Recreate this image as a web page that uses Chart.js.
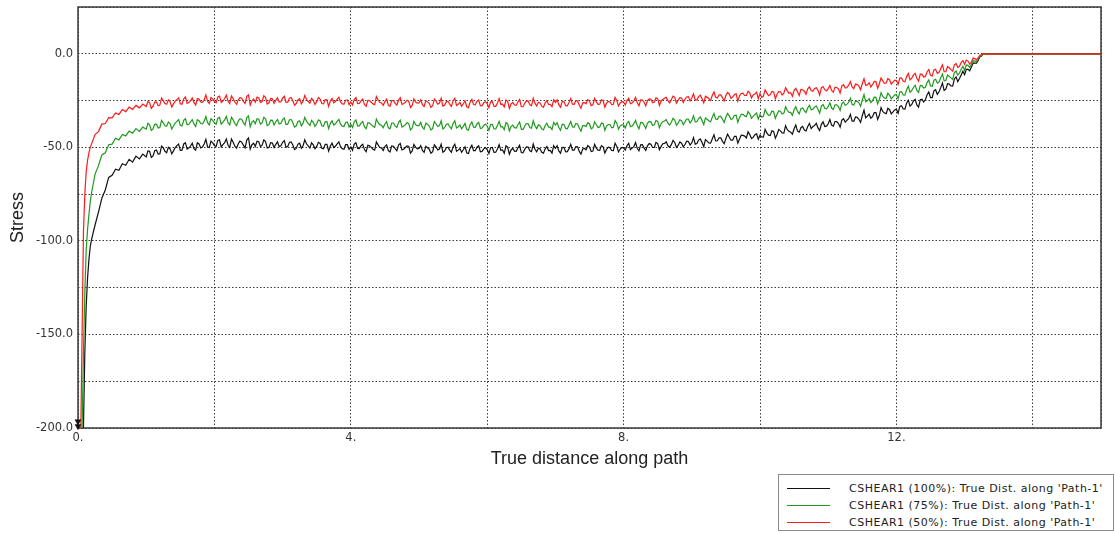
<!DOCTYPE html>
<html>
<head>
<meta charset="utf-8">
<title>CSHEAR1 along Path-1</title>
<script src="https://cdn.jsdelivr.net/npm/chart.js@4.4.1/dist/chart.umd.min.js"></script>
<style>
  html, body { margin: 0; padding: 0; background: #fff; }
  #wrap { position: relative; width: 1115px; height: 534px; overflow: hidden; }
  #legend {
    position: absolute; left: 778px; top: 474px; width: 336px; height: 57px;
    box-sizing: border-box; border: 1px solid #8a8a8a; background: #fff;
    font: 11px "DejaVu Sans", Verdana, sans-serif; letter-spacing: 0.5px; color: #222;
  }
  #legend .row { position: absolute; left: 0; right: 0; height: 16px; }
  #legend .sw { position: absolute; left: 8px; width: 43px; top: 7px; height: 0; border-top: 1.3px solid; }
  #legend .tx { position: absolute; left: 70px; top: 0; line-height: 16px; white-space: nowrap; }
</style>
</head>
<body>
<div id="wrap">
  <canvas id="chart" width="1115" height="534"></canvas>
  <div id="legend"></div>
</div>
<script>
// Distance along Path-1 (primary sample positions)
const distance = [
  0, 0.02, 0.04, 0.06, 0.08, 0.1, 0.12, 0.14, 0.16, 0.18,
  0.2, 0.25, 0.3, 0.35, 0.4, 0.45, 0.5, 0.55, 0.6, 0.65, 0.7, 0.75, 0.8, 0.85, 0.9, 0.95, 1,
  1.05, 1.1, 1.15, 1.2, 1.25, 1.3, 1.35, 1.4, 1.45, 1.5, 1.55, 1.6, 1.65, 1.7, 1.75, 1.8, 1.85, 1.9, 1.95, 2,
  2.05, 2.1, 2.15, 2.2, 2.25, 2.3, 2.35, 2.4, 2.45, 2.5, 2.55, 2.6, 2.65, 2.7, 2.75, 2.8, 2.85, 2.9, 2.95, 3,
  3.05, 3.1, 3.15, 3.2, 3.25, 3.3, 3.35, 3.4, 3.45, 3.5, 3.55, 3.6, 3.65, 3.7, 3.75, 3.8, 3.85, 3.9, 3.95, 4,
  4.05, 4.1, 4.15, 4.2, 4.25, 4.3, 4.35, 4.4, 4.45, 4.5, 4.55, 4.6, 4.65, 4.7, 4.75, 4.8, 4.85, 4.9, 4.95, 5,
  5.05, 5.1, 5.15, 5.2, 5.25, 5.3, 5.35, 5.4, 5.45, 5.5, 5.55, 5.6, 5.65, 5.7, 5.75, 5.8, 5.85, 5.9, 5.95, 6,
  6.05, 6.1, 6.15, 6.2, 6.25, 6.3, 6.35, 6.4, 6.45, 6.5, 6.55, 6.6, 6.65, 6.7, 6.75, 6.8, 6.85, 6.9, 6.95, 7,
  7.05, 7.1, 7.15, 7.2, 7.25, 7.3, 7.35, 7.4, 7.45, 7.5, 7.55, 7.6, 7.65, 7.7, 7.75, 7.8, 7.85, 7.9, 7.95, 8,
  8.05, 8.1, 8.15, 8.2, 8.25, 8.3, 8.35, 8.4, 8.45, 8.5, 8.55, 8.6, 8.65, 8.7, 8.75, 8.8, 8.85, 8.9, 8.95, 9,
  9.05, 9.1, 9.15, 9.2, 9.25, 9.3, 9.35, 9.4, 9.45, 9.5, 9.55, 9.6, 9.65, 9.7, 9.75, 9.8, 9.85, 9.9, 9.95, 10,
  10.05, 10.1, 10.15, 10.2, 10.25, 10.3, 10.35, 10.4, 10.45, 10.5, 10.55, 10.6, 10.65, 10.7, 10.75, 10.8, 10.85, 10.9, 10.95, 11,
  11.05, 11.1, 11.15, 11.2, 11.25, 11.3, 11.35, 11.4, 11.45, 11.5, 11.55, 11.6, 11.65, 11.7, 11.75, 11.8, 11.85, 11.9, 11.95, 12,
  12.05, 12.1, 12.15, 12.2, 12.25, 12.3, 12.35, 12.4, 12.45, 12.5, 12.55, 12.6, 12.65, 12.7, 12.75, 12.8, 12.85, 12.9, 12.95, 13,
  13.05, 13.1, 13.15, 13.2, 13.25, 13.27, 15
];

// Distance along Path-1 (intermediate sample positions)
const distanceMid = [
  1.025, 1.075, 1.125, 1.175, 1.225, 1.275, 1.325, 1.375, 1.425, 1.475, 1.525, 1.575, 1.625, 1.675, 1.725, 1.775, 1.825, 1.875, 1.925, 1.975,
  2.025, 2.075, 2.125, 2.175, 2.225, 2.275, 2.325, 2.375, 2.425, 2.475, 2.525, 2.575, 2.625, 2.675, 2.725, 2.775, 2.825, 2.875, 2.925, 2.975,
  3.025, 3.075, 3.125, 3.175, 3.225, 3.275, 3.325, 3.375, 3.425, 3.475, 3.525, 3.575, 3.625, 3.675, 3.725, 3.775, 3.825, 3.875, 3.925, 3.975,
  4.025, 4.075, 4.125, 4.175, 4.225, 4.275, 4.325, 4.375, 4.425, 4.475, 4.525, 4.575, 4.625, 4.675, 4.725, 4.775, 4.825, 4.875, 4.925, 4.975,
  5.025, 5.075, 5.125, 5.175, 5.225, 5.275, 5.325, 5.375, 5.425, 5.475, 5.525, 5.575, 5.625, 5.675, 5.725, 5.775, 5.825, 5.875, 5.925, 5.975,
  6.025, 6.075, 6.125, 6.175, 6.225, 6.275, 6.325, 6.375, 6.425, 6.475, 6.525, 6.575, 6.625, 6.675, 6.725, 6.775, 6.825, 6.875, 6.925, 6.975,
  7.025, 7.075, 7.125, 7.175, 7.225, 7.275, 7.325, 7.375, 7.425, 7.475, 7.525, 7.575, 7.625, 7.675, 7.725, 7.775, 7.825, 7.875, 7.925, 7.975,
  8.025, 8.075, 8.125, 8.175, 8.225, 8.275, 8.325, 8.375, 8.425, 8.475, 8.525, 8.575, 8.625, 8.675, 8.725, 8.775, 8.825, 8.875, 8.925, 8.975,
  9.025, 9.075, 9.125, 9.175, 9.225, 9.275, 9.325, 9.375, 9.425, 9.475, 9.525, 9.575, 9.625, 9.675, 9.725, 9.775, 9.825, 9.875, 9.925, 9.975,
  10.025, 10.075, 10.125, 10.175, 10.225, 10.275, 10.325, 10.375, 10.425, 10.475, 10.525, 10.575, 10.625, 10.675, 10.725, 10.775, 10.825, 10.875, 10.925, 10.975,
  11.025, 11.075, 11.125, 11.175, 11.225, 11.275, 11.325, 11.375, 11.425, 11.475, 11.525, 11.575, 11.625, 11.675, 11.725, 11.775, 11.825, 11.875, 11.925, 11.975,
  12.025, 12.075, 12.125, 12.175, 12.225, 12.275, 12.325, 12.375, 12.425, 12.475, 12.525, 12.575, 12.625, 12.675, 12.725, 12.775, 12.825, 12.875, 12.925, 12.975,
  13.025, 13.075, 13.125, 13.175, 13.225
];

// CSHEAR1 at 100 % load
const cshear100 = [
  -400, -360, -310, -250, -200, -160, -135, -120, -110, -103,
  -99.0, -91.5, -84.6, -77.2, -72.8, -66.1, -64.9, -61.7, -62.3, -58.8, -59.6, -56.4, -57.9, -54.7, -56.2, -53.6, -55.1,
  -52.1, -54.6, -51.4, -53.5, -50.2, -52.9, -50.8, -51.9, -49.1, -51.6, -48.2, -50.9, -49.3, -50.7, -47.6, -50.3, -48.2, -49.8, -46.7, -49.1,
  -46.3, -49.7, -47.5, -48.9, -45.6, -49.4, -48.1, -47.2, -50.3, -45.0, -48.6, -49.5, -47.0, -48.8, -46.9, -50.1, -47.7, -48.4, -49.6, -47.3,
  -49.9, -47.4, -48.8, -50.6, -47.8, -49.2, -48.1, -50.4, -48.7, -49.5, -47.9, -50.8, -48.4, -49.3, -50.1, -48.2, -49.7, -51.0, -48.6, -49.8,
  -48.3, -50.6, -49.1, -51.2, -48.9, -50.0, -51.5, -48.7, -50.3, -49.6, -51.8, -49.2, -50.7, -48.8, -51.4, -50.1, -49.5, -51.9, -49.9, -50.6,
  -51.7, -49.4, -51.0, -52.3, -49.8, -50.9, -52.6, -50.2, -51.5, -49.7, -52.1, -50.6, -51.3, -53.0, -50.4, -51.8, -49.9, -52.4, -50.8, -51.2,
  -50.2, -52.7, -50.9, -51.6, -53.2, -49.9, -51.4, -52.0, -50.3, -52.8, -51.1, -49.8, -52.3, -51.0, -50.5, -52.6, -50.8, -51.7, -53.1, -50.6,
  -51.9, -50.1, -52.4, -50.7, -51.5, -49.6, -52.2, -50.9, -51.3, -49.9, -52.0, -50.4, -51.6, -49.7, -51.1, -50.2, -51.8, -49.5, -50.9, -50.3,
  -49.1, -51.2, -49.6, -50.5, -48.7, -50.3, -49.2, -48.4, -50.1, -48.0, -49.5, -47.9, -49.2, -48.6, -47.4, -49.0, -47.8, -48.5, -46.9, -47.6,
  -48.3, -46.1, -47.4, -45.9, -47.7, -45.5, -46.6, -44.9, -46.8, -45.3, -44.6, -46.2, -44.1, -45.5, -43.6, -45.0, -43.2, -44.7, -42.8, -43.6,
  -44.5, -42.3, -43.7, -41.5, -43.1, -41.2, -42.4, -40.6, -41.9, -40.1, -41.3, -39.5, -40.8, -38.9, -40.0, -38.4, -39.6, -37.7, -38.9, -37.4,
  -38.1, -36.2, -37.3, -35.4, -36.6, -34.7, -35.9, -33.8, -35.0, -33.1, -34.2, -32.3, -33.6, -31.5, -32.9, -30.8, -32.0, -29.9, -31.1, -29.6,
  -28.1, -29.5, -26.4, -28.0, -25.2, -27.3, -24.6, -25.7, -21.9, -23.4, -19.8, -21.7, -18.1, -19.6, -16.0, -17.2, -13.5, -14.9, -11.3, -11.2,
  -8.3, -7.1, -5.0, -3.4, -1.2, 0, 0
];
const cshear100Mid = [
  -51.9, -55.4, -51.8, -53.6, -49.4, -52.1, -50.0, -53.5, -50.2, -48.3, -51.5, -47.5, -50.4, -47.8, -51.5, -48.2, -49.8, -45.7, -50.1, -47.6,
  -49.6, -46.0, -48.5, -45.5, -50.0, -47.3, -50.4, -46.7, -48.8, -46.1, -51.0, -47.8, -46.7, -49.6, -46.0, -50.4, -47.5, -50.1, -47.1, -49.2,
  -46.4, -49.6, -47.1, -51.2, -48.3, -50.5, -46.0, -49.2, -47.6, -50.8, -47.3, -50.5, -48.4, -52.0, -47.8, -49.4, -47.1, -50.7, -48.6, -51.1,
  -51.6, -47.6, -50.7, -48.4, -52.3, -49.2, -51.0, -47.1, -50.1, -51.7, -48.7, -52.5, -49.4, -51.8, -47.9, -51.0, -49.2, -53.1, -48.5, -50.8,
  -49.1, -52.7, -50.2, -53.2, -48.7, -51.4, -48.3, -52.0, -49.9, -52.6, -48.3, -51.5, -52.6, -49.7, -53.3, -48.9, -51.8, -49.2, -52.2, -50.1,
  -53.3, -50.1, -52.6, -48.5, -51.4, -49.2, -53.7, -50.5, -52.1, -48.9, -52.9, -49.7, -51.8, -48.2, -52.4, -50.8, -53.1, -49.5, -51.6, -49.1,
  -49.1, -53.1, -50.0, -52.3, -48.4, -51.5, -49.7, -53.6, -50.6, -49.0, -52.2, -48.4, -51.5, -49.1, -53.0, -49.9, -51.7, -47.8, -52.4, -50.1,
  -51.5, -47.9, -50.4, -47.4, -51.9, -48.6, -51.7, -48.0, -50.1, -47.4, -51.3, -48.1, -47.0, -49.9, -46.3, -50.0, -47.1, -49.7, -46.7, -48.8,
  -44.8, -48.0, -45.5, -49.6, -46.7, -47.8, -43.3, -46.5, -44.9, -48.1, -43.0, -46.2, -44.1, -47.7, -43.5, -44.0, -41.7, -45.3, -43.2, -45.7,
  -44.4, -40.4, -43.5, -41.2, -45.1, -40.5, -42.3, -38.4, -41.4, -43.0, -38.1, -41.9, -38.8, -41.2, -37.3, -38.9, -37.1, -41.0, -36.4, -38.7,
  -35.1, -38.7, -36.2, -39.2, -34.7, -35.5, -32.4, -36.1, -34.0, -36.7, -30.1, -33.3, -34.4, -31.5, -35.1, -28.8, -31.7, -29.1, -32.1, -30.0,
  -31.8, -27.8, -29.6, -24.8, -27.1, -24.4, -28.5, -24.3, -24.6, -20.4, -23.4, -19.2, -20.3, -15.7, -18.9, -16.2, -17.3, -12.4, -13.2, -9.3,
  -8.3, -9.1, -4.9, -5.0, -1.6
];

// CSHEAR1 at 75 % load
const cshear75 = [
  -330, -300, -260, -200, -160, -128, -105, -94, -86, -79,
  -74.0, -64.3, -59.8, -54.1, -52.9, -48.6, -48.3, -45.1, -46.0, -43.1, -43.9, -41.3, -42.4, -40.0, -41.5, -39.2, -40.3,
  -38.0, -40.1, -37.6, -39.4, -36.9, -38.8, -37.3, -38.6, -36.1, -38.2, -35.6, -37.9, -36.4, -37.5, -35.2, -37.3, -36.0, -36.8, -34.7, -36.9,
  -34.4, -37.6, -35.3, -36.8, -33.9, -37.2, -36.0, -35.1, -38.1, -33.2, -36.5, -37.4, -35.0, -36.9, -34.8, -37.9, -35.6, -36.3, -37.5, -35.2,
  -37.8, -35.4, -36.7, -38.5, -35.8, -37.1, -36.0, -38.3, -36.6, -37.4, -35.9, -38.7, -36.3, -37.2, -38.1, -36.1, -37.6, -38.9, -36.5, -37.7,
  -36.4, -38.6, -37.1, -39.0, -36.8, -37.9, -39.3, -36.7, -38.2, -37.5, -39.6, -37.0, -38.5, -36.8, -39.2, -38.0, -37.3, -39.7, -37.8, -38.4,
  -39.3, -37.1, -38.6, -39.9, -37.4, -38.4, -40.2, -37.8, -39.0, -37.3, -39.7, -38.1, -38.8, -40.5, -37.9, -39.2, -37.5, -39.9, -38.3, -38.7,
  -37.8, -40.2, -38.4, -39.1, -40.6, -37.5, -38.9, -39.5, -37.9, -40.3, -38.6, -37.4, -39.8, -38.5, -38.0, -40.1, -38.3, -39.2, -40.5, -38.1,
  -39.4, -37.6, -39.9, -38.2, -39.0, -37.2, -39.7, -38.4, -38.8, -37.5, -39.5, -37.9, -39.1, -37.3, -38.6, -37.8, -39.3, -37.1, -38.5, -38.0,
  -37.1, -39.0, -37.5, -38.3, -36.7, -38.1, -37.2, -36.4, -38.0, -36.1, -37.4, -35.9, -37.1, -36.6, -35.4, -36.9, -35.8, -36.4, -35.0, -35.7,
  -36.4, -34.6, -35.7, -34.3, -35.8, -33.9, -34.9, -33.5, -35.0, -33.8, -33.2, -34.6, -32.8, -34.0, -32.4, -33.6, -32.1, -33.4, -31.7, -32.5,
  -33.4, -31.6, -32.7, -31.0, -32.3, -30.8, -31.7, -30.2, -31.3, -29.9, -30.8, -29.3, -30.4, -28.9, -29.9, -28.5, -29.6, -28.0, -29.1, -28.3,
  -29.0, -27.3, -28.2, -26.6, -27.6, -26.0, -27.0, -25.3, -26.2, -24.7, -25.6, -24.0, -25.0, -23.3, -24.5, -22.8, -23.8, -22.1, -23.0, -21.9,
  -20.4, -22.0, -19.2, -20.6, -18.0, -19.6, -16.9, -18.3, -15.4, -17.2, -14.1, -15.7, -12.8, -14.5, -11.4, -12.9, -10.1, -11.4, -8.3, -8.9,
  -6.2, -5.6, -3.8, -2.9, -1.0, 0, 0
];
const cshear75Mid = [
  -37.2, -41.0, -37.7, -39.7, -35.6, -38.5, -36.5, -40.2, -37.0, -35.2, -38.6, -34.7, -37.7, -35.2, -38.9, -35.8, -37.5, -33.5, -38.0, -35.6,
  -37.6, -34.0, -36.5, -33.5, -38.0, -35.3, -38.4, -34.7, -36.8, -34.1, -39.0, -35.8, -34.7, -37.6, -34.0, -38.4, -35.5, -38.1, -35.1, -37.2,
  -34.4, -37.6, -35.1, -39.2, -36.3, -38.5, -34.0, -37.2, -35.6, -38.8, -35.3, -38.5, -36.4, -40.0, -35.8, -37.4, -35.1, -38.7, -36.6, -39.1,
  -39.4, -35.4, -38.5, -36.2, -40.1, -37.0, -38.8, -34.9, -37.9, -39.5, -36.3, -40.1, -37.0, -39.4, -35.5, -38.6, -36.8, -40.7, -36.1, -38.4,
  -36.6, -40.2, -37.7, -40.7, -36.2, -38.9, -35.8, -39.5, -37.4, -40.1, -35.8, -39.0, -40.1, -37.2, -40.8, -36.4, -39.3, -36.7, -39.7, -37.6,
  -40.9, -37.7, -40.2, -36.1, -39.0, -36.8, -41.3, -38.1, -39.7, -36.5, -40.5, -37.3, -39.4, -35.8, -40.0, -38.4, -40.7, -37.1, -39.2, -36.7,
  -36.9, -40.9, -37.8, -40.1, -36.2, -39.3, -37.5, -41.4, -38.4, -36.8, -40.1, -36.3, -39.4, -37.0, -40.9, -37.8, -39.6, -35.7, -40.3, -38.0,
  -39.7, -36.1, -38.6, -35.6, -40.1, -36.8, -39.9, -36.2, -38.3, -35.6, -39.5, -36.3, -35.2, -38.1, -34.5, -38.2, -35.3, -37.9, -34.9, -37.0,
  -33.1, -36.3, -33.8, -37.9, -35.0, -36.4, -31.9, -35.1, -33.5, -36.7, -31.9, -35.1, -33.0, -36.6, -32.4, -33.2, -30.9, -34.5, -32.4, -34.9,
  -33.8, -29.8, -32.9, -30.6, -34.5, -30.4, -32.2, -28.3, -31.3, -32.9, -28.3, -32.1, -29.0, -31.4, -27.5, -29.6, -27.8, -31.7, -27.1, -29.4,
  -26.2, -29.8, -27.3, -30.3, -25.8, -26.9, -23.8, -27.5, -25.4, -28.1, -21.8, -25.0, -26.1, -23.2, -26.8, -20.8, -23.7, -21.1, -24.1, -22.0,
  -24.0, -20.2, -22.1, -17.3, -19.6, -16.8, -20.7, -17.0, -17.9, -14.0, -17.4, -13.6, -15.1, -10.8, -14.3, -12.1, -13.7, -9.2, -10.3, -6.7,
  -6.0, -7.3, -3.7, -4.3, -1.3
];

// CSHEAR1 at 50 % load
const cshear50 = [
  -300, -260, -205, -150, -95, -75, -63, -57, -53, -50,
  -48.0, -43.2, -41.6, -37.6, -37.3, -34.1, -34.3, -31.6, -32.4, -29.8, -30.9, -28.5, -29.7, -27.6, -28.9, -26.9, -28.2,
  -26.1, -28.0, -25.7, -27.4, -25.2, -27.0, -25.6, -26.8, -24.5, -26.7, -24.1, -26.5, -25.0, -26.0, -23.9, -25.8, -24.6, -25.3, -23.4, -25.5,
  -23.1, -26.0, -23.9, -25.4, -22.6, -25.8, -24.6, -23.7, -26.5, -22.0, -25.1, -25.9, -23.6, -25.5, -23.4, -26.2, -24.1, -24.9, -25.8, -23.7,
  -26.0, -23.8, -25.1, -26.6, -24.0, -25.4, -24.3, -26.4, -24.9, -25.6, -24.2, -26.8, -24.6, -25.3, -26.2, -24.4, -25.7, -26.9, -24.7, -25.8,
  -24.5, -26.6, -25.2, -27.1, -24.9, -25.9, -27.2, -24.7, -26.3, -25.6, -27.5, -25.0, -26.5, -24.9, -27.0, -25.9, -25.4, -27.6, -25.8, -26.3,
  -27.2, -25.1, -26.5, -27.8, -25.3, -26.4, -28.0, -25.7, -26.9, -25.2, -27.6, -26.0, -26.7, -28.3, -25.8, -27.1, -25.4, -27.8, -26.2, -26.6,
  -25.7, -28.1, -26.3, -27.0, -28.4, -25.4, -26.8, -27.4, -25.8, -28.2, -26.5, -25.3, -27.7, -26.4, -25.9, -28.0, -26.2, -27.1, -28.3, -26.0,
  -27.2, -25.5, -27.7, -26.0, -26.9, -25.1, -27.5, -26.2, -26.6, -25.3, -27.3, -25.7, -26.9, -25.1, -26.4, -25.6, -27.0, -24.9, -26.3, -25.8,
  -24.9, -26.7, -25.3, -26.1, -24.6, -25.9, -25.0, -24.3, -25.8, -24.0, -25.2, -23.8, -25.0, -24.5, -23.3, -24.8, -23.7, -24.3, -22.9, -23.6,
  -24.6, -22.9, -24.0, -22.7, -23.9, -22.3, -23.2, -22.0, -23.4, -22.2, -21.6, -23.0, -21.4, -22.5, -21.0, -22.3, -20.9, -22.0, -20.5, -21.3,
  -22.6, -20.9, -21.8, -20.4, -21.6, -20.3, -21.0, -19.7, -20.8, -19.5, -20.3, -19.1, -20.0, -18.7, -19.6, -18.5, -19.5, -18.1, -19.2, -18.6,
  -19.6, -17.8, -18.7, -17.2, -18.3, -16.8, -17.7, -16.2, -17.3, -15.9, -16.8, -15.4, -16.4, -14.9, -16.0, -14.5, -15.6, -14.0, -15.1, -14.3,
  -13.0, -14.7, -12.2, -13.9, -11.3, -13.1, -10.8, -12.4, -9.7, -11.5, -8.6, -10.5, -7.9, -9.6, -6.8, -8.5, -5.9, -7.3, -4.7, -5.6,
  -3.9, -4.4, -2.6, -2.1, -0.6, 0, 0
];
const cshear50Mid = [
  -25.5, -29.2, -25.8, -27.8, -23.7, -26.6, -24.6, -28.4, -25.3, -23.6, -27.0, -23.1, -26.1, -23.6, -27.4, -24.2, -26.0, -22.0, -26.5, -24.1,
  -26.2, -22.6, -25.1, -22.1, -26.6, -23.9, -27.0, -23.3, -25.4, -22.7, -27.4, -24.2, -23.1, -26.0, -22.4, -26.8, -23.9, -26.5, -23.5, -25.6,
  -22.7, -25.9, -23.4, -27.5, -24.6, -26.8, -22.3, -25.5, -23.9, -27.1, -23.4, -26.6, -24.5, -28.1, -23.9, -25.5, -23.2, -26.8, -24.7, -27.2,
  -27.4, -23.4, -26.5, -24.2, -28.1, -25.0, -26.8, -22.9, -25.9, -27.5, -24.3, -28.1, -25.0, -27.4, -23.5, -26.6, -24.8, -28.7, -24.1, -26.4,
  -24.6, -28.2, -25.7, -28.7, -24.2, -26.9, -23.8, -27.5, -25.4, -28.1, -23.8, -27.0, -28.1, -25.2, -28.8, -24.4, -27.3, -24.7, -27.7, -25.6,
  -28.8, -25.6, -28.1, -24.0, -26.9, -24.7, -29.2, -26.0, -27.6, -24.4, -28.4, -25.2, -27.3, -23.7, -27.9, -26.3, -28.6, -25.0, -27.1, -24.6,
  -24.6, -28.6, -25.5, -27.8, -23.9, -27.0, -25.2, -29.1, -26.1, -24.5, -27.7, -23.9, -27.0, -24.6, -28.5, -25.4, -27.2, -23.3, -27.9, -25.6,
  -27.4, -23.8, -26.3, -23.3, -27.8, -24.7, -27.8, -24.1, -26.2, -23.5, -27.6, -24.4, -23.3, -26.2, -22.6, -26.4, -23.5, -26.1, -23.1, -25.2,
  -21.4, -24.6, -22.1, -26.2, -23.3, -24.9, -20.4, -23.6, -22.0, -25.2, -20.7, -23.9, -21.8, -25.4, -21.2, -22.3, -20.0, -23.6, -21.5, -24.0,
  -23.3, -19.3, -22.4, -20.1, -24.0, -20.2, -22.0, -18.1, -21.1, -22.7, -18.5, -22.3, -19.2, -21.6, -17.7, -20.0, -18.2, -22.1, -17.5, -19.8,
  -16.9, -20.5, -18.0, -21.0, -16.5, -18.0, -14.9, -18.6, -16.5, -19.2, -13.4, -16.6, -17.7, -14.8, -18.4, -12.9, -15.8, -13.2, -16.2, -14.1,
  -16.4, -12.9, -15.0, -10.5, -13.0, -10.4, -14.6, -11.0, -12.1, -8.4, -11.9, -8.3, -10.0, -5.9, -9.6, -7.5, -9.3, -5.2, -6.7, -3.6,
  -3.4, -5.6, -2.3, -3.3, -0.7
];

// Out-of-range markers at the start of the path
const overflowMarkX = [0, 0];
const overflowMarkY = [-196.5, -199];

const seriesNames = [
  "CSHEAR1 (100%): True Dist. along 'Path-1'",
  "CSHEAR1 (75%): True Dist. along 'Path-1'",
  "CSHEAR1 (50%): True Dist. along 'Path-1'"
];
const seriesColors = ['#111111', '#1f9a1f', '#ff1a1a'];
const seriesValues = [cshear100, cshear75, cshear50];
const seriesMidValues = [cshear100Mid, cshear75Mid, cshear50Mid];

const xTickStep = 2;      // grid spacing along the path
const xLabelEvery = 4;    // labelled distance ticks
const yTickStep = 25;     // grid spacing of stress
const yLabelEvery = 50;   // labelled stress ticks

// Merge primary and intermediate samples into one ordered polyline
const toPoints = (vals, mids) =>
  distance.map((d, i) => ({ x: d, y: vals[i] }))
    .concat(distanceMid.map((d, i) => ({ x: d, y: mids[i] })))
    .sort((a, b) => a.x - b.x);

const datasets = seriesValues.map((vals, i) => ({
  label: seriesNames[i],
  data: toPoints(vals, seriesMidValues[i]),
  borderColor: seriesColors[i],
  borderWidth: 1.2,
  pointRadius: 0,
  tension: 0,
  fill: false,
  order: seriesValues.length - i
}));

datasets.push({
  label: 'overflow',
  data: overflowMarkX.map((x, i) => ({ x, y: overflowMarkY[i] })),
  showLine: false,
  pointStyle: 'triangle',
  rotation: 180,
  pointRadius: 3.5,
  pointBackgroundColor: '#111',
  pointBorderColor: '#111',
  pointBorderWidth: 0.5,
  clip: false,
  order: 0
});

const tickFont = { family: 'DejaVu Sans', size: 11.5 };
const titleFont = { family: 'Liberation Sans', size: 18 };

// Solid frame around the plotting area
const framePlugin = {
  id: 'frame',
  beforeDatasetsDraw(chart) {
    const { ctx, chartArea: a } = chart;
    ctx.save();
    ctx.strokeStyle = '#3a3a3a';
    ctx.lineWidth = 1.5;
    ctx.strokeRect(a.left, a.top, a.right - a.left, a.bottom - a.top);
    ctx.restore();
  }
};

new Chart(document.getElementById('chart'), {
  type: 'line',
  data: { datasets },
  plugins: [framePlugin],
  options: {
    responsive: false,
    animation: false,
    events: [],
    layout: { padding: { left: 7, top: 7, right: 14, bottom: 64 } },
    plugins: { legend: { display: false }, tooltip: { enabled: false } },
    scales: {
      x: {
        type: 'linear',
        min: 0,
        max: 15,
        afterFit: (s) => { s.height = 42; s.paddingLeft = 0; s.paddingRight = 0; },
        ticks: {
          stepSize: xTickStep,
          autoSkip: false,
          maxRotation: 0,
          padding: 3,
          color: '#333',
          font: tickFont,
          callback: (v) => (v % xLabelEvery === 0 && v < 15 ? v + '.' : '')
        },
        grid: { color: '#3a3a3a', lineWidth: 1, drawTicks: false },
        border: { display: false, dash: [1.5, 2] },
        title: { display: true, text: 'True distance along path', color: '#222', font: titleFont, padding: 0 }
      },
      y: {
        type: 'linear',
        min: -200,
        max: 25,
        afterFit: (s) => { s.width = 71; s.paddingTop = 0; s.paddingBottom = 0; },
        ticks: {
          stepSize: yTickStep,
          autoSkip: false,
          padding: 5,
          color: '#333',
          font: tickFont,
          callback: (v) => (v % yLabelEvery === 0 ? v.toFixed(1) : '')
        },
        grid: { color: '#3a3a3a', lineWidth: 1, drawTicks: false },
        border: { display: false, dash: [1.5, 2] },
        title: { display: true, text: 'Stress', color: '#222', font: titleFont, padding: 0 }
      }
    }
  }
});

// Legend box
const legend = document.getElementById('legend');
seriesNames.forEach((name, i) => {
  const row = document.createElement('div');
  row.className = 'row';
  row.style.top = (6 + i * 17) + 'px';
  const sw = document.createElement('div');
  sw.className = 'sw';
  sw.style.borderTopColor = seriesColors[i];
  const tx = document.createElement('div');
  tx.className = 'tx';
  tx.textContent = name;
  row.appendChild(sw);
  row.appendChild(tx);
  legend.appendChild(row);
});
</script>
</body>
</html>
